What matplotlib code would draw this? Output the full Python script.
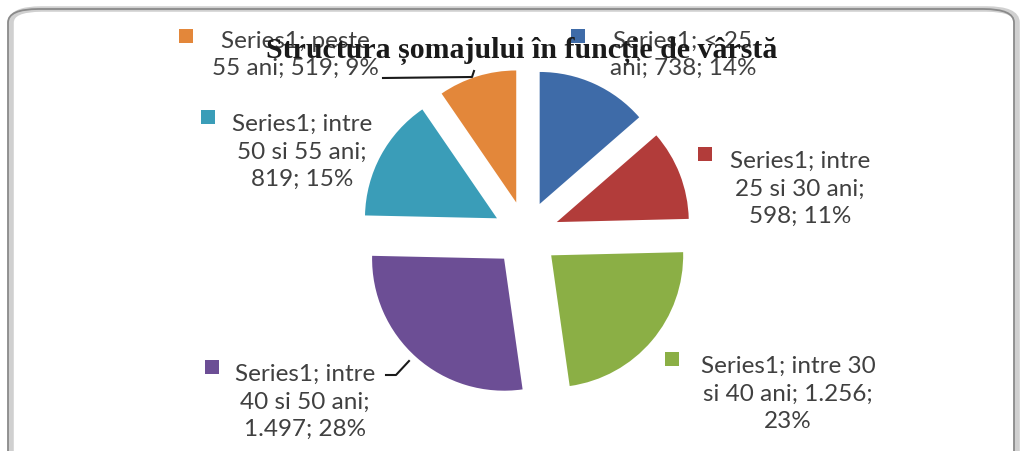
import numpy as np
import matplotlib.pyplot as plt
from matplotlib.patches import FancyBboxPatch, Rectangle

W, H = 1023, 452

categories = ["< 25 ani", "intre 25 si 30 ani", "intre 30 si 40 ani",
              "intre 40 si 50 ani", "intre 50 si 55 ani", "peste 55 ani"]
values = [738, 598, 1256, 1497, 819, 519]
labels = ["Series1; < 25\nani; 738; 14%",
          "Series1; intre\n25 si 30 ani;\n598; 11%",
          "Series1; intre 30\nsi 40 ani; 1.256;\n23%",
          "Series1; intre\n40 si 50 ani;\n1.497; 28%",
          "Series1; intre\n50 si 55 ani;\n819; 15%",
          "Series1; peste\n55 ani; 519; 9%"]
colors = ["#3E6BA8", "#B23C3A", "#8BAF45", "#6C4E95", "#3A9DB8", "#E3873A"]
title = "Structura șomajului în funcție de vârstă"

# label block centres (px from top-left) and marker positions
label_pos = [(683, 55), (800, 189), (788, 394), (305, 402), (302, 152), (295, 55)]
marker_pos = [(578, 37), (705, 155), (672, 360), (212, 368), (208, 118), (186, 37)]


def fx(x):
    return x / W


def fy(y):
    return 1 - y / H


fig = plt.figure(figsize=(W / 100, H / 100), dpi=100)
fig.patch.set_facecolor("white")

# rounded frame with faint shadow
fig.patches.append(FancyBboxPatch((fx(11), fy(470)), fx(1006), 460 / H,
                                  boxstyle="round,pad=0,rounding_size=0.03",
                                  transform=fig.transFigure, facecolor="none",
                                  edgecolor="#d0d0d0", linewidth=4, zorder=-2))
fig.patches.append(FancyBboxPatch((fx(8), fy(468)), fx(1006), 458 / H,
                                  boxstyle="round,pad=0,rounding_size=0.03",
                                  transform=fig.transFigure, facecolor="none",
                                  edgecolor="#8a8a8a", linewidth=1.3, zorder=-1))

R = 132
L = 1.6
cx, cy = 526, 235
size = 2 * L * R
ax = fig.add_axes([fx(cx - size / 2), fy(cy + size / 2), size / W, size / H])
ax.pie(values, colors=colors, startangle=90, counterclock=False,
       explode=[0.25] * len(values), radius=1,
       wedgeprops=dict(linewidth=0))
ax.set_xlim(-L, L)
ax.set_ylim(-L, L)
ax.set_aspect("equal")
ax.axis("off")

for lab, (x, y), (mx, my), c in zip(labels, label_pos, marker_pos, colors):
    fig.text(fx(x), fy(y), lab, ha="center", va="center", fontsize=17.5,
             family="Lato", color="#404040", linespacing=1.38)
    fig.patches.append(Rectangle((fx(mx - 7), fy(my + 7)), 14 / W, 14 / H,
                                 transform=fig.transFigure, facecolor=c,
                                 edgecolor="none"))

# leader lines
fig.lines.append(plt.Line2D([fx(383), fx(472), fx(474)], [fy(79), fy(78), fy(72)],
                            transform=fig.transFigure, color="#1a1a1a", lw=1.5))
fig.lines.append(plt.Line2D([fx(386), fx(396), fx(409)], [fy(376), fy(376), fy(362)],
                            transform=fig.transFigure, color="#1a1a1a", lw=1.5))

fig.text(fx(522), fy(51), title, ha="center", va="center", fontsize=21.5,
         family="Liberation Serif", fontweight="bold", color="#1a1a1a")

fig.savefig("out.png", dpi=100)
